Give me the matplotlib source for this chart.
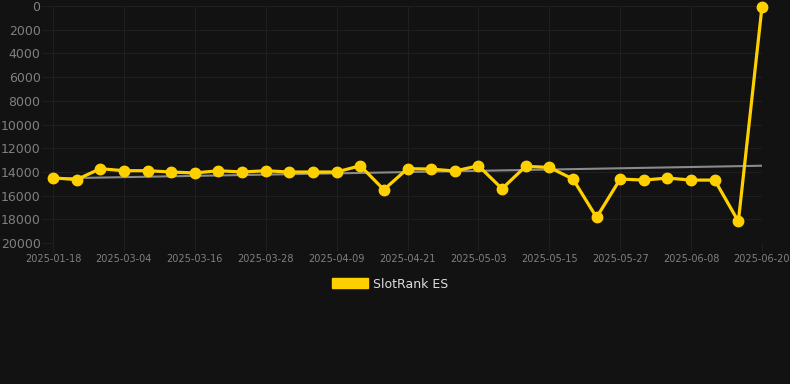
import numpy as np
import matplotlib
matplotlib.use('Agg')
import matplotlib.pyplot as plt
from matplotlib.patches import Patch

# dates shown on the category axis (every point, labels every third)
dates = [
    "2025-01-18", "2025-02-24", "2025-02-28", "2025-03-04", "2025-03-08",
    "2025-03-12", "2025-03-16", "2025-03-20", "2025-03-24", "2025-03-28",
    "2025-04-01", "2025-04-05", "2025-04-09", "2025-04-13", "2025-04-17",
    "2025-04-21", "2025-04-25", "2025-04-29", "2025-05-03", "2025-05-07",
    "2025-05-11", "2025-05-15", "2025-05-19", "2025-05-23", "2025-05-27",
    "2025-05-31", "2025-06-04", "2025-06-08", "2025-06-12", "2025-06-16",
    "2025-06-20",
]
rank_es = [
    14500, 14650, 13730, 13900, 13900, 14010, 14090, 13900, 14010, 13900,
    14010, 14010, 14010, 13480, 15500, 13730, 13760, 13930, 13480, 15420,
    13530, 13620, 14600, 17840, 14600, 14690, 14520, 14690, 14690, 18180,
    60,
]
trend_ends = [14550, 13480]
y_ticks = [0, 2000, 4000, 6000, 8000, 10000, 12000, 14000, 16000, 18000, 20000]

BG = "#121212"
GOLD = "#FFD000"
GRID = "#1f1f1f"

fig = plt.figure(figsize=(7.9, 3.84), dpi=100, facecolor=BG)
ax = fig.add_axes([53 / 790, 1 - 243 / 384, (762 - 53) / 790, (243 - 6) / 384])
ax.set_facecolor(BG)

x = np.arange(len(dates))
ax.plot([x[0], x[-1]], trend_ends, color="#8a8a8a", lw=1.5, zorder=2)
ax.plot(x, rank_es, color=GOLD, lw=2.3, marker="o", ms=7.5,
        markerfacecolor=GOLD, markeredgecolor=GOLD, zorder=3, clip_on=False)

ax.set_xlim(0, len(dates) - 1)
ax.set_ylim(20000, 0)
ax.set_yticks(y_ticks)
ax.set_yticklabels([str(v) for v in y_ticks])
ax.set_xticks(x[::3])
ax.set_xticklabels(dates[::3])

ax.grid(True, color=GRID, lw=0.8)
for s in ax.spines.values():
    s.set_visible(False)
ax.tick_params(axis="y", colors=GRID, labelcolor="#808080", labelsize=9,
               length=8, pad=1)
ax.tick_params(axis="x", colors=GRID, labelcolor="#808080", labelsize=7,
               length=6, pad=2)

fig.legend(handles=[Patch(facecolor=GOLD, edgecolor=GOLD, label="SlotRank ES")],
           loc="center", bbox_to_anchor=(0.494, 1 - 284 / 384), frameon=False,
           handlelength=2.9, handleheight=0.9, handletextpad=0.4,
           fontsize=9, labelcolor="#dddddd")

fig.savefig("out.png", dpi=100, facecolor=BG)
